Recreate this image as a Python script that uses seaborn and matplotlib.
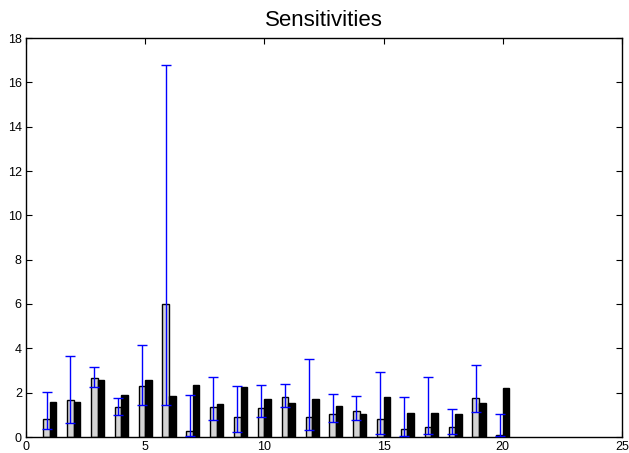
import numpy as np
import pandas as pd
import matplotlib
matplotlib.use("Agg")
import matplotlib.pyplot as plt
import seaborn as sns

# ---- data ----
params = list(range(1, 21))
sens_mean = [0.83, 1.65, 2.66, 1.37, 2.28, 6.00, 0.28, 1.37, 0.90, 1.31,
             1.80, 0.92, 1.04, 1.17, 0.81, 0.37, 0.45, 0.45, 1.76, 0.10]
sens_low = [0.36, 0.61, 2.25, 0.99, 1.44, 1.44, 0.05, 0.77, 0.23, 0.90,
            1.35, 0.33, 0.69, 0.75, 0.14, 0.03, 0.15, 0.14, 1.11, 0.03]
sens_high = [2.01, 3.64, 3.18, 1.74, 4.15, 16.78, 1.89, 2.69, 2.30, 2.35,
             2.37, 3.52, 1.94, 1.85, 2.91, 1.80, 2.69, 1.26, 3.23, 1.06]
reference = [1.58, 1.58, 2.57, 1.89, 2.55, 1.85, 2.33, 1.47, 2.27, 1.70,
             1.55, 1.73, 1.41, 1.05, 1.80, 1.08, 1.08, 1.05, 1.55, 2.22]
series_names = ["estimated", "reference"]
title = "Sensitivities"
x_ticks = [0, 5, 10, 15, 20, 25]
y_ticks = [0, 2, 4, 6, 8, 10, 12, 14, 16, 18]

df = pd.DataFrame({
    "param": params * 2,
    "series": [series_names[0]] * len(params) + [series_names[1]] * len(params),
    "value": sens_mean + reference,
})

plt.rcParams["font.family"] = ["Liberation Sans", "DejaVu Sans"]

fig = plt.figure(figsize=(6.29, 4.53), dpi=100)
ax = fig.add_axes([26 / 629, 16 / 453, 596 / 629, 399 / 453])

total_width = 0.55
sns.barplot(data=df, x="param", y="value", hue="series", hue_order=series_names,
            palette={series_names[0]: "#d4d4d4", series_names[1]: "black"},
            native_scale=True, width=total_width, dodge=True, errorbar=None,
            edgecolor="black", linewidth=1.0, legend=False, ax=ax)

offset = total_width / 4
xm = np.array(params) - offset
m = np.array(sens_mean)
ax.errorbar(xm, m, yerr=[m - np.array(sens_low), np.array(sens_high) - m],
            fmt="none", ecolor="#0000ff", elinewidth=1.0, capsize=3.3,
            capthick=1.0, zorder=5)

ax.set_xlim(0, 25)
ax.set_ylim(0, 18)
ax.set_xticks(x_ticks)
ax.set_yticks(y_ticks)
ax.set_xticklabels([str(t) for t in x_ticks])
ax.set_yticklabels([str(t) for t in y_ticks])
ax.set_xlabel("")
ax.set_ylabel("")
ax.tick_params(direction="in", length=4, width=0.8, top=True, right=True,
               labelsize=9, pad=3, colors="black")
for s in ax.spines.values():
    s.set_linewidth(1.0)
    s.set_color("black")
ax.set_title(title, fontsize=16, pad=9)

fig.savefig("out.png", dpi=100)
